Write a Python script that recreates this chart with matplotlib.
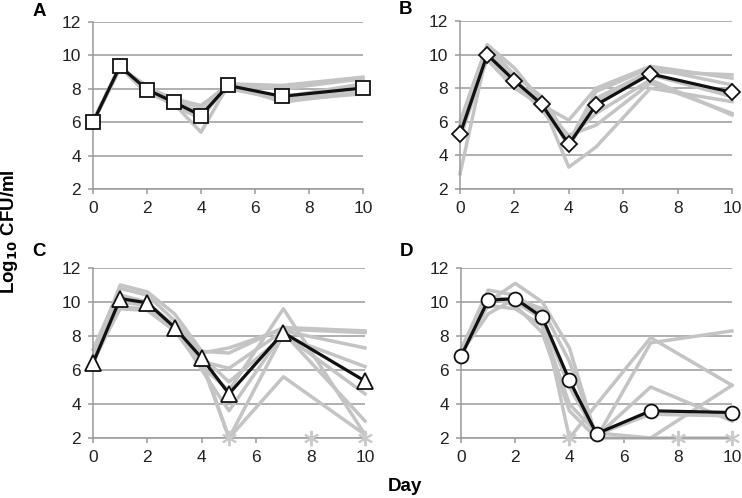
import numpy as np
import matplotlib
matplotlib.use('Agg')
import matplotlib.pyplot as plt

plt.rcParams['font.family'] = ['Liberation Sans', 'DejaVu Sans']

days = [0, 1, 2, 3, 4, 5, 7, 10]

# mean curves (black)
mean_a = [6.0, 9.35, 7.95, 7.2, 6.4, 8.2, 7.55, 8.05]
mean_b = [5.25, 10.0, 8.45, 7.05, 4.65, 7.0, 8.85, 7.75]
mean_c = [6.4, 10.2, 9.95, 8.5, 6.7, 4.6, 8.2, 5.35]
mean_d = [6.8, 10.1, 10.2, 9.1, 5.4, 2.25, 3.6, 3.5]

# individual replicates (grey)
reps_a = [
    [6.0, 9.3, 8.0, 7.3, 6.9, 8.3, 8.2, 8.7],
    [6.0, 9.4, 7.8, 7.1, 5.4, 8.2, 8.0, 8.6],
    [6.0, 9.2, 8.2, 7.2, 6.6, 8.1, 7.3, 7.7],
    [6.0, 9.4, 7.9, 7.0, 6.2, 8.3, 7.2, 7.8],
    [6.1, 9.3, 8.1, 7.4, 7.0, 8.2, 7.5, 8.3],
    [6.0, 9.3, 7.7, 7.2, 6.5, 8.0, 7.4, 8.0],
]
reps_b = [
    [2.9, 10.2, 8.5, 7.0, 4.6, 7.4, 9.0, 8.8],
    [6.0, 10.6, 9.2, 7.2, 3.3, 4.5, 8.0, 7.2],
    [5.5, 9.7, 8.0, 7.0, 6.1, 8.0, 9.3, 8.6],
    [5.8, 10.5, 8.8, 7.5, 5.0, 6.5, 8.5, 6.4],
    [5.0, 9.8, 8.2, 6.8, 5.2, 5.8, 8.3, 6.5],
    [5.3, 10.1, 8.6, 6.7, 4.8, 7.8, 9.2, 8.2],
    [5.6, 10.3, 8.4, 7.3, 4.5, 7.2, 8.8, 7.5],
]
reps_c = [
    [6.8, 11.0, 10.6, 9.3, 7.1, 7.0, 8.5, 8.3],
    [7.2, 10.8, 10.4, 8.9, 7.0, 7.3, 8.4, 8.2],
    [6.5, 9.7, 9.6, 8.4, 6.5, 6.1, 8.3, 7.3],
    [6.4, 10.2, 9.9, 8.6, 6.8, 5.3, 8.0, 6.2],
    [6.6, 9.6, 9.5, 8.3, 6.2, 4.8, 9.6, 2.2],
    [6.5, 10.4, 10.0, 8.5, 6.0, 3.6, 8.2, 3.0],
    [6.4, 10.0, 9.8, 8.4, 6.4, 2.0, 5.6, 2.2],
    [6.5, 10.1, 9.9, 8.6, 6.6, 2.0, 8.1, 4.6],
]
reps_d = [
    [7.2, 10.7, 10.4, 9.3, 2.0, np.nan, 7.9, 5.1],
    [6.9, 10.0, 11.1, 10.0, 7.3, 2.0, 7.6, 8.3],
    [7.0, 9.3, 10.2, 9.6, 6.5, 2.1, 5.0, 3.0],
    [6.8, 10.3, 9.8, 8.2, 3.6, 2.0, 2.0, 5.1],
    [6.9, 9.8, 9.6, 8.6, 4.0, 2.3, 2.0, 2.0],
    [7.1, 10.4, 10.0, 9.0, 5.0, 2.2, 3.4, 3.3],
]

# below detection limit markers
star_c = [5, 8, 10]
star_d = [4, 8, 10]

panels = [
    ('A', mean_a, reps_a, 's', 9.5, [], (93, 363, 22, 189), 11),
    ('B', mean_b, reps_b, 'D', 8.0, [], (460, 732, 21, 189), 10),
    ('C', mean_c, reps_c, '^', 11.0, star_c, (93, 365, 268, 438), 252),
    ('D', mean_d, reps_d, 'o', 10.0, star_d, (461, 732, 268, 438), 251),
]

W, H = 742, 498
fig = plt.figure(figsize=(W / 100, H / 100), dpi=100)
grid_col = '#9a9a9a'

for letter, mean, reps, mk, ms, stars, (l, r, t, b), ly in panels:
    ax = fig.add_axes([l / W, 1 - b / H, (r - l) / W, (b - t) / H])
    ax.set_xlim(0, 10)
    ax.set_ylim(2, 12)
    ax.set_xticks(range(0, 11, 2))
    ax.set_yticks(range(2, 13, 2))
    ax.yaxis.grid(True, color=grid_col, lw=1.1)
    ax.set_axisbelow(True)
    for s in ['top', 'right']:
        ax.spines[s].set_visible(False)
    for s in ['left', 'bottom']:
        ax.spines[s].set_color(grid_col)
        ax.spines[s].set_linewidth(1.1)
    ax.tick_params(colors=grid_col, labelcolor='#222222', labelsize=12.5,
                   length=3.5, width=1.1, pad=5)
    x = np.array(days)
    for rep in reps:
        y = np.array(rep, dtype=float)
        ok = ~np.isnan(y)
        ax.plot(x[ok], y[ok], color='#c4c4c4', lw=2.5, zorder=2, clip_on=False)
    if stars:
        ax.plot(stars, [2] * len(stars), ls='none', marker=(6, 2, 0), ms=11,
                mec='#cacaca', mew=1.4, zorder=3, clip_on=False)
    ax.plot(days, mean, color='#111111', lw=2.3, marker=mk, ms=ms,
            mfc='white', mec='#111111', mew=1.3, zorder=4, clip_on=False)
    fig.text((l - 54) / W, 1 - ly / H, letter, fontsize=13.5,
             fontweight='bold', ha='center', va='center')

fig.text(10 / W, 1 - 232 / H, r'Log$_{\mathbf{10}}$ CFU/ml', rotation=90,
         fontsize=13.5, fontweight='bold', ha='center', va='center')
fig.text(405 / W, 1 - 486 / H, 'Day', fontsize=13.5, fontweight='bold',
         ha='center', va='center')

fig.savefig('out.png', dpi=100)
